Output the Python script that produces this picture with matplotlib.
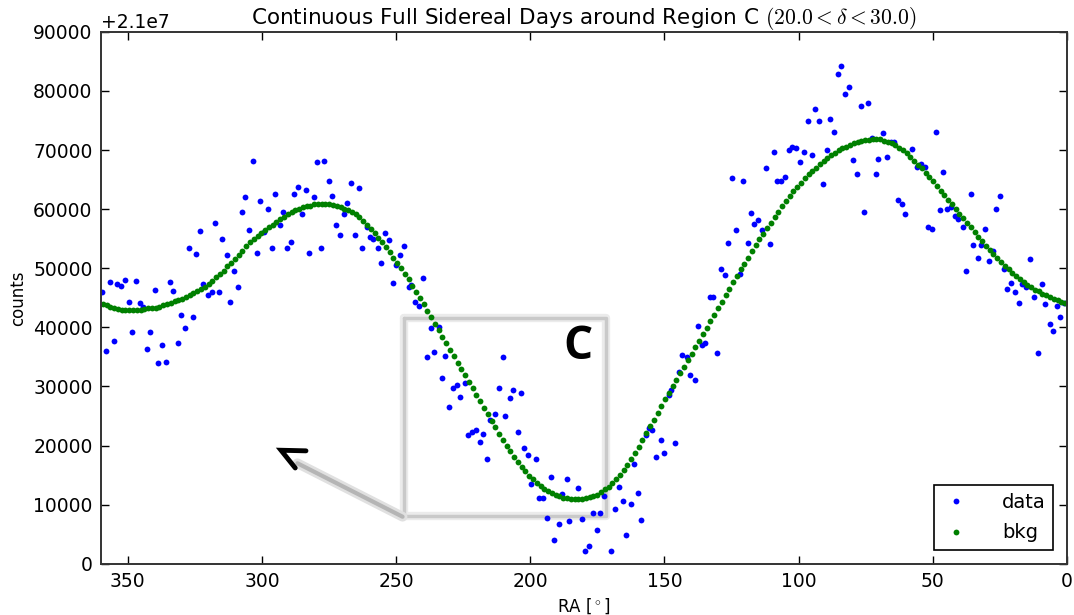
import matplotlib
matplotlib.use('Agg')
import matplotlib.pyplot as plt
import numpy as np

# RA bin centres (256 bins over 360 deg)
ra_bins = np.linspace(0.703125, 359.296875, 256)

# background fit, thousands of counts above 2.1e7 (one value per RA bin, from RA=0 upward)
bkg_k = [
    44.1, 44.3, 44.6, 44.8, 45.1, 45.4, 45.7, 46.1, 46.4, 46.8, 47.2, 47.7, 48.2, 48.7, 49.2, 49.8,
    50.4, 51.0, 51.7, 52.4, 53.1, 53.8, 54.6, 55.3, 56.1, 56.9, 57.7, 58.5, 59.2, 60.0, 60.8, 61.6,
    62.4, 63.1, 63.9, 64.7, 65.4, 66.1, 66.9, 67.5, 68.2, 68.8, 69.5, 70.0, 70.4, 70.9, 71.2, 71.4,
    71.6, 71.8, 71.8, 71.8, 71.7, 71.7, 71.5, 71.3, 71.2, 70.9, 70.6, 70.3, 70.0, 69.5, 69.1, 68.6,
    68.1, 67.6, 67.0, 66.5, 65.9, 65.2, 64.5, 63.8, 63.0, 62.2, 61.4, 60.5, 59.6, 58.7, 57.7, 56.8,
    55.8, 54.9, 53.9, 52.9, 51.8, 50.8, 49.8, 48.7, 47.6, 46.5, 45.4, 44.3, 43.2, 42.1, 41.0, 39.9,
    38.8, 37.7, 36.6, 35.5, 34.4, 33.3, 32.2, 31.1, 30.0, 28.9, 27.8, 26.7, 25.5, 24.4, 23.3, 22.1,
    21.0, 19.8, 18.8, 17.8, 16.7, 15.8, 15.0, 14.3, 13.6, 13.0, 12.6, 12.1, 11.7, 11.5, 11.3, 11.1,
    11.0, 11.0, 10.9, 10.9, 11.1, 11.2, 11.4, 11.6, 11.9, 12.3, 12.6, 13.2, 13.7, 14.3, 14.9, 15.7,
    16.4, 17.2, 18.1, 19.0, 20.0, 21.0, 22.0, 23.1, 24.2, 25.3, 26.4, 27.5, 28.6, 29.7, 30.8, 31.9,
    33.0, 34.0, 35.1, 36.2, 37.3, 38.4, 39.5, 40.6, 41.7, 42.8, 43.9, 45.0, 46.0, 47.0, 48.1, 49.0,
    50.0, 50.9, 51.8, 52.7, 53.6, 54.4, 55.2, 55.9, 56.7, 57.4, 58.0, 58.6, 59.1, 59.5, 59.8, 60.1,
    60.4, 60.6, 60.7, 60.9, 60.9, 60.9, 60.8, 60.8, 60.6, 60.5, 60.3, 60.1, 59.8, 59.5, 59.2, 58.7,
    58.3, 57.8, 57.4, 56.9, 56.5, 56.0, 55.5, 54.9, 54.4, 53.8, 53.0, 52.3, 51.6, 50.9, 50.3, 49.6,
    49.0, 48.5, 47.9, 47.3, 46.9, 46.5, 46.1, 45.8, 45.5, 45.1, 44.8, 44.6, 44.4, 44.1, 43.9, 43.7,
    43.5, 43.3, 43.2, 43.2, 43.1, 43.0, 43.0, 42.9, 42.9, 42.9, 43.0, 43.1, 43.2, 43.4, 43.7, 43.9,
]

# measured data points: RA [deg] and thousands of counts above 2.1e7
data_ra = [
    359.7, 358.1, 356.8, 355.2, 354.0, 352.5, 351.2, 349.6, 348.4, 346.8, 345.5, 344.3, 342.8, 341.6,
    340.0, 338.7, 337.1, 335.8, 334.2, 333.0, 331.4, 330.1, 328.7, 327.3, 325.8, 324.6, 323.0, 321.8,
    320.0, 318.8, 317.6, 316.0, 314.9, 313.1, 312.0, 310.3, 309.0, 307.5, 306.3, 304.7, 303.5, 301.8,
    300.7, 299.1, 297.9, 296.3, 295.0, 293.4, 292.1, 290.5, 289.3, 288.0, 286.4, 285.2, 283.7, 282.3,
    280.7, 279.5, 278.0, 276.8, 275.1, 273.9, 272.3, 271.0, 269.6, 268.2, 266.7, 265.3, 263.9, 262.6,
    260.9, 259.6, 258.6, 256.9, 255.7, 254.0, 252.8, 251.3, 250.1, 248.6, 247.2, 245.3, 244.4, 242.9,
    241.6, 240.1, 238.6, 237.1, 235.9, 234.2, 233.0, 231.8, 230.2, 228.9, 227.5, 226.1, 224.2, 223.4,
    221.8, 220.3, 218.8, 217.5, 216.1, 214.9, 213.3, 211.8, 210.3, 209.3, 207.6, 206.4, 204.7, 203.5,
    202.4, 200.7, 199.7, 197.9, 196.7, 195.2, 193.8, 192.2, 191.0, 189.4, 188.2, 186.5, 185.4, 182.4,
    180.9, 179.6, 178.1, 176.8, 175.3, 174.1, 172.7, 169.9, 168.4, 167.1, 165.6, 164.3, 162.5, 161.3,
    160.0, 158.7, 157.0, 155.7, 154.5, 153.0, 151.4, 150.1, 148.5, 147.4, 146.1, 144.5, 143.3, 141.7,
    140.5, 138.7, 137.6, 135.9, 134.9, 133.1, 131.9, 130.4, 129.0, 127.4, 126.3, 124.7, 123.4, 122.0,
    120.6, 119.0, 117.7, 116.5, 115.0, 113.8, 112.1, 110.8, 109.3, 108.0, 106.5, 105.2, 103.7, 102.5,
    101.0, 99.5, 98.0, 96.6, 95.1, 93.9, 92.3, 91.0, 89.4, 88.3, 86.9, 85.4, 84.2, 82.6, 81.4, 79.7,
    78.4, 76.9, 75.6, 74.2, 72.8, 71.3, 70.3, 68.4, 67.2, 65.6, 64.3, 62.9, 61.6, 60.2, 57.6, 55.8,
    54.5, 53.0, 51.9, 50.3, 49.0, 47.3, 46.1, 44.6, 43.2, 41.7, 40.5, 38.9, 37.7, 35.9, 34.9, 33.3,
    32.1, 30.7, 29.2, 27.7, 26.4, 25.1, 23.6, 22.3, 20.8, 19.5, 17.8, 16.7, 15.1, 13.8, 12.2, 10.8,
    9.5, 8.1, 6.5, 5.2, 3.8, 2.5, 1.3,
]
data_k = [
    46.0, 36.0, 47.7, 37.7, 47.3, 47.0, 48.0, 44.3, 39.2, 47.9, 44.2, 43.5, 36.4, 39.2,
    46.4, 33.9, 37.0, 34.2, 47.7, 46.2, 37.4, 42.1, 39.9, 53.5, 41.8, 52.4, 56.3, 47.3,
    45.5, 45.9, 57.6, 46.0, 54.9, 52.2, 44.3, 49.5, 46.8, 59.6, 62.0, 56.4, 68.1, 52.6,
    61.3, 56.1, 60.1, 53.4, 62.6, 57.3, 59.5, 53.4, 54.5, 62.6, 63.8, 59.1, 63.2, 52.5,
    62.0, 68.0, 53.5, 68.2, 64.7, 62.2, 57.3, 55.6, 59.1, 61.1, 64.4, 55.6, 63.5, 53.4,
    56.9, 55.3, 55.0, 53.4, 50.9, 55.9, 54.7, 47.5, 50.5, 52.2, 53.7, 46.8, 47.2, 44.3,
    43.6, 48.4, 34.9, 39.9, 35.9, 40.1, 31.5, 35.1, 26.6, 29.7, 30.2, 28.2, 30.6, 21.8,
    22.3, 22.7, 20.6, 21.9, 17.8, 24.4, 25.3, 29.8, 35.0, 25.0, 28.1, 29.4, 22.3, 28.9,
    19.5, 18.4, 13.5, 17.8, 11.1, 11.1, 7.8, 14.6, 4.0, 6.7, 11.8, 14.4, 7.2, 12.8,
    7.6, 2.2, 3.0, 8.5, 5.7, 8.6, 11.5, 2.2, 9.2, 12.9, 10.6, 4.8, 10.1, 16.8,
    12.0, 7.4, 21.8, 23.0, 22.6, 18.1, 21.0, 18.7, 28.5, 29.4, 20.5, 32.4, 35.4, 35.0,
    31.9, 31.1, 40.3, 37.0, 37.4, 45.1, 45.1, 35.7, 49.9, 48.8, 54.3, 65.3, 56.5, 49.1,
    64.8, 54.3, 59.3, 57.5, 58.2, 56.5, 67.0, 54.1, 69.6, 64.8, 64.8, 65.5, 70.0, 70.5,
    70.3, 67.9, 69.7, 74.9, 69.1, 76.9, 74.9, 64.2, 70.0, 75.2, 73.0, 82.8, 84.3, 79.5, 80.6, 68.4,
    65.9, 77.4, 59.5, 78.0, 72.0, 65.9, 68.5, 72.8, 68.8, 71.4, 71.4, 61.6, 60.8, 59.2, 70.1, 67.2,
    67.7, 67.2, 56.9, 56.7, 73.0, 59.8, 66.3, 60.0, 60.3, 58.9, 58.3, 57.0, 49.5, 62.6, 53.9, 51.7,
    53.9, 56.7, 51.3, 52.9, 60.0, 62.2, 49.9, 46.5, 47.5, 46.0, 44.2, 47.3, 46.9, 51.6, 45.2, 35.7,
    47.3, 44.0, 40.5, 39.4, 43.6, 41.8, 44.1,
]

base = 2.1e7
data_counts = base + np.array(data_k) * 1000
bkg_counts = base + np.array(bkg_k) * 1000

plt.rcParams['mathtext.fontset'] = 'cm'

fig = plt.figure(figsize=(10.74, 6.15), dpi=100)
ax = fig.add_axes([0.094, 0.0834, 0.8995, 0.8648])

ax.plot(data_ra, data_counts, 'o', color='b', ms=4.2, mew=0, label='data')
ax.plot(ra_bins, bkg_counts, 'o', color='#008000', ms=4.2, mew=0, label='bkg')

ax.set_xlim(360, 0)
ax.set_ylim(base, base + 90000)
ax.set_xticks([350, 300, 250, 200, 150, 100, 50, 0])
ax.set_yticks(base + np.arange(0, 90001, 10000))
ax.ticklabel_format(axis='y', style='plain', useOffset=base)

ax.tick_params(direction='in', top=True, right=True, length=6, width=1, labelsize=13.5, pad=6)
for sp in ax.spines.values():
    sp.set_linewidth(1.4)
    sp.set_color('#333333')
ax.yaxis.get_offset_text().set_fontsize(13.5)

ax.set_title(r'Continuous Full Sidereal Days around Region C $(20.0<\delta<30.0)$', fontsize=15.5, pad=6)
ax.set_xlabel(r'RA [$^\circ$]', fontsize=12)
ax.set_ylabel('counts', fontsize=12)

# highlight box around region C, with soft shadow
box_ra = [247.2, 171.8, 171.8, 247.2, 247.2]
box_k = [41.5, 41.5, 8.1, 8.1, 41.5]
box_y = base + np.array(box_k) * 1000
ax.plot(box_ra, box_y, color='#ebebeb', lw=6, zorder=1.5, solid_capstyle='round')
ax.plot(box_ra, box_y, color='#c9c9c9', lw=2.5, zorder=1.5, solid_capstyle='round')
ax.text(182.2, base + 36700, 'C', fontsize=33, fontweight='bold', family='Open Sans',
        ha='center', va='center', zorder=5)

# arrow pointing out of the box
shaft_ra = [247.6, 286.8]
shaft_y = base + np.array([7.95, 17.0]) * 1000
ax.plot(shaft_ra, shaft_y, color='#e0e0e0', lw=7, zorder=1.5, solid_capstyle='round')
ax.plot(shaft_ra, shaft_y, color='#b5b5b5', lw=3, zorder=1.5, solid_capstyle='round')
head_ra = [283.6, 292.9, 287.6]
head_y = base + np.array([19.1, 19.2, 16.2]) * 1000
ax.plot(head_ra, head_y, color='black', lw=3.5, zorder=5, solid_capstyle='round',
        solid_joinstyle='miter')

leg = ax.legend(loc='lower right', numpoints=1, fontsize=14, fancybox=False,
                edgecolor='black', framealpha=1, handlelength=1.5, handletextpad=1.6,
                borderaxespad=0.7, labelspacing=0.6)
leg.get_frame().set_linewidth(1.2)

fig.savefig('out.png', dpi=100)
